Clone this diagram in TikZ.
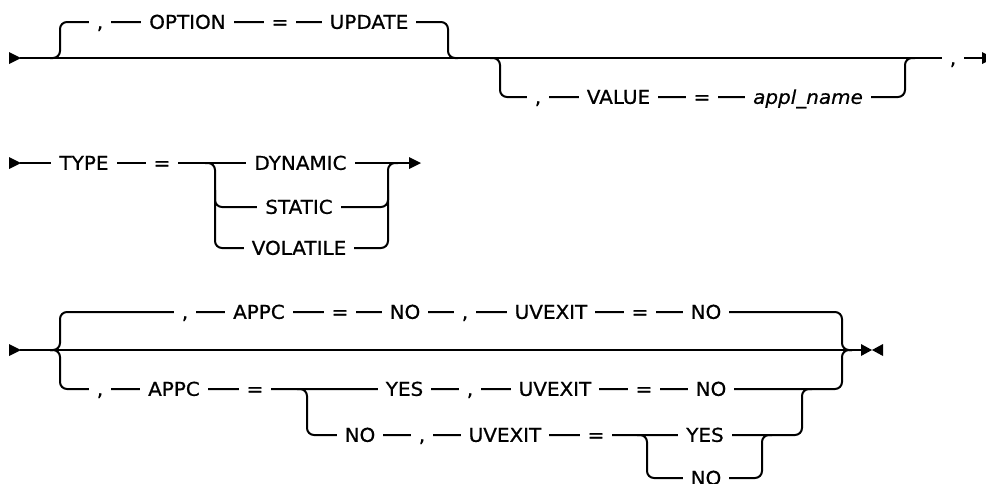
\documentclass[tikz,border=0pt]{standalone}
\usepackage{fontspec}
\setmainfont{DejaVu Sans}[FakeStretch=1.05,FakeBold=0.7]
\tikzset{
  track/.style={line width=2pt, rounded corners=7pt},
  lbl/.style={fill=white, inner xsep=8pt, inner ysep=0pt, text height=15pt, text depth=4pt, anchor=base, font=\fontsize{19}{23}\selectfont},
  tipfill/.style={fill=black}
}
\newcommand\syn[4]{\node[lbl] (#1) at (#2,#3+6.8) {#4};}
\begin{document}
\begin{tikzpicture}[x=1pt,y=-1pt]
\clip (0,0) rectangle (986,483);
% ---------- row 1 ----------
\draw[track] (20,58) -- (983,58);
\draw[track] (50,58) -- (60,58) -- (60,22) -- (448,22) -- (448,58) -- (458,58);
\draw[track] (490,58) -- (500,58) -- (500,97) -- (905,97) -- (905,58) -- (915,58);
\fill[tipfill] (9,52) -- (21,58) -- (9,64) -- cycle;
\fill[tipfill] (982,52) -- (994,58) -- (982,64) -- cycle;
\syn{a1}{100}{22}{,}
\syn{a2}{187.5}{22}{OPTION}
\syn{a3}{280}{22}{=}
\syn{a4}{369}{22}{UPDATE}
\syn{b1}{538}{97}{,}
\syn{b2}{618.5}{97}{VALUE}
\syn{b3}{702}{97}{=}
\syn{b4}{808}{97}{\textit{appl\_name}}
\syn{c1}{953}{58}{,}
% ---------- row 2 ----------
\draw[track] (20,163) -- (412,163);
\draw[track] (205,163) -- (215,163) -- (215,248) -- (388,248) -- (388,163) -- (398,163);
\draw[track] (215,190) -- (215,207) -- (388,207) -- (388,190);
\fill[tipfill] (9,157) -- (21,163) -- (9,169) -- cycle;
\fill[tipfill] (409,157) -- (421,163) -- (409,169) -- cycle;
\syn{d1}{84}{163}{TYPE}
\syn{d2}{162}{163}{=}
\syn{d3}{300.5}{163}{DYNAMIC}
\syn{d4}{299}{207}{STATIC}
\syn{d5}{299}{248}{VOLATILE}
% ---------- row 3 ----------
\draw[track] (20,350) -- (862,350);
\draw[track] (50,350) -- (60,350) -- (60,312) -- (842,312) -- (842,350) -- (852,350);
\draw[track] (50,350) -- (60,350) -- (60,389) -- (842,389) -- (842,350) -- (852,350);
\draw[track] (297,389) -- (307,389) -- (307,435) -- (802,435) -- (802,389) -- (812,389);
\draw[track] (637,435) -- (647,435) -- (647,478) -- (762,478) -- (762,435) -- (772,435);
\fill[tipfill] (9,344) -- (21,350) -- (9,356) -- cycle;
\fill[tipfill] (861,344) -- (872,350) -- (861,356) -- cycle;
\fill[tipfill] (883,344) -- (872,350) -- (883,356) -- cycle;
\syn{e1}{185}{312}{,}
\syn{e2}{259}{312}{APPC}
\syn{e3}{340}{312}{=}
\syn{e4}{405}{312}{NO}
\syn{e5}{465}{312}{,}
\syn{e6}{551}{312}{UVEXIT}
\syn{e7}{640}{312}{=}
\syn{e8}{706}{312}{NO}
\syn{f1}{100}{389}{,}
\syn{f2}{174}{389}{APPC}
\syn{f3}{255}{389}{=}
\syn{f4}{404.5}{389}{YES}
\syn{f5}{470}{389}{,}
\syn{f6}{555}{389}{UVEXIT}
\syn{f7}{644}{389}{=}
\syn{f8}{711}{389}{NO}
\syn{g1}{360}{435}{NO}
\syn{g2}{422}{435}{,}
\syn{g3}{505}{435}{UVEXIT}
\syn{g4}{596}{435}{=}
\syn{g5}{705}{435}{YES}
\syn{h1}{706}{478}{NO}
\end{tikzpicture}
\end{document}
